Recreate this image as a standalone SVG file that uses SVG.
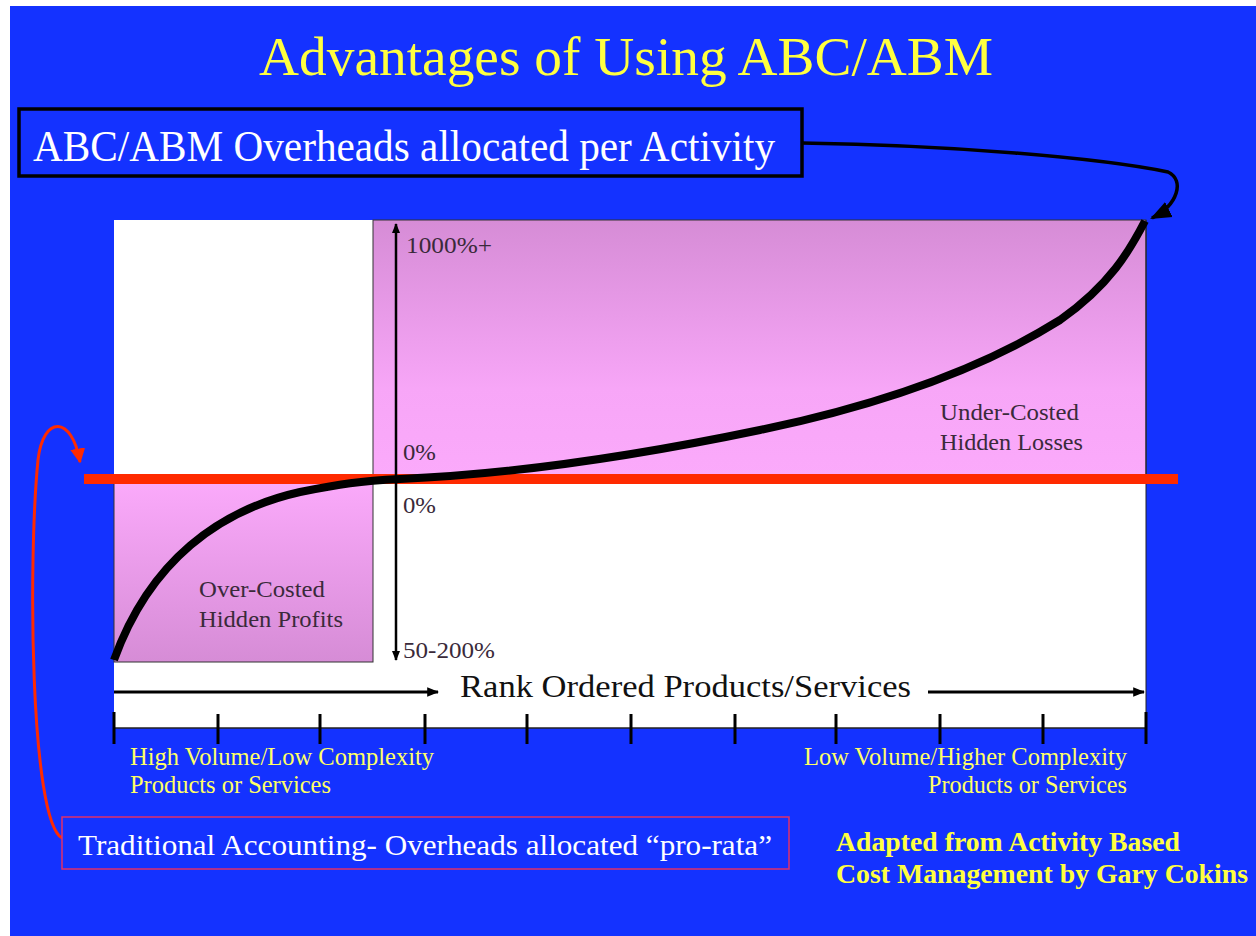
<svg xmlns="http://www.w3.org/2000/svg" width="1256" height="936" viewBox="0 0 1256 936">
<defs>
<linearGradient id="gTop" x1="0" y1="0" x2="0" y2="1">
<stop offset="0" stop-color="#D68CD6"/>
<stop offset="0.65" stop-color="#F7A6F7"/>
<stop offset="1" stop-color="#FBAAFB"/>
</linearGradient>
<linearGradient id="gBot" x1="0" y1="0" x2="0" y2="1">
<stop offset="0" stop-color="#FBAAFB"/>
<stop offset="1" stop-color="#D68CD6"/>
</linearGradient>
<marker id="ah" viewBox="0 0 10 10" refX="9" refY="5" markerWidth="4" markerHeight="4" orient="auto-start-reverse" markerUnits="strokeWidth">
<path d="M0,1 L10,5 L0,9 z" fill="#000"/>
</marker>
<marker id="ahs" viewBox="0 0 10 10" refX="9" refY="5" markerWidth="6" markerHeight="6" orient="auto-start-reverse" markerUnits="strokeWidth">
<path d="M0,1 L10,5 L0,9 z" fill="#000"/>
</marker>
<marker id="ahr" viewBox="0 0 10 10" refX="9" refY="5" markerWidth="5" markerHeight="5" orient="auto" markerUnits="strokeWidth">
<path d="M0,0 L10,5 L0,10 z" fill="#FF2A00"/>
</marker>
</defs>
<style>
.serif{font-family:"Liberation Serif","Times New Roman",serif}
.lbl{font-family:"Liberation Serif","Times New Roman",serif;font-size:23px;fill:#3a2a3a}
.ylw{font-family:"Liberation Serif","Times New Roman",serif;font-size:24.5px;fill:#FFFF66}
.tick{stroke:#000;stroke-width:3}
</style>
<rect x="0" y="0" width="1256" height="936" fill="#fff"/>
<rect x="10" y="6" width="1246" height="930" fill="#1432FF"/>

<text id="title" x="259" y="75" class="serif" font-size="54" fill="#FFFF40" textLength="734" lengthAdjust="spacingAndGlyphs">Advantages of Using  ABC/ABM</text>

<g id="chart">
<rect x="114" y="220" width="1032" height="508" fill="#fff"/>
<rect x="373" y="220" width="773" height="260" fill="url(#gTop)" stroke="#333" stroke-width="1"/>
<rect x="114" y="480" width="259" height="182" fill="url(#gBot)" stroke="#333" stroke-width="1"/>
<line x1="114" y1="728" x2="1146" y2="728" stroke="#222" stroke-width="1.5"/>
<line x1="1146" y1="220" x2="1146" y2="728" stroke="#222" stroke-width="1"/>
</g>

<g id="ticks">
<line class="tick" x1="114" y1="712" x2="114" y2="744"/>
<line class="tick" x1="218" y1="714" x2="218" y2="744"/>
<line class="tick" x1="320" y1="714" x2="320" y2="744"/>
<line class="tick" x1="425" y1="714" x2="425" y2="744"/>
<line class="tick" x1="527" y1="714" x2="527" y2="744"/>
<line class="tick" x1="631" y1="714" x2="631" y2="744"/>
<line class="tick" x1="735" y1="714" x2="735" y2="744"/>
<line class="tick" x1="836" y1="714" x2="836" y2="744"/>
<line class="tick" x1="940" y1="714" x2="940" y2="744"/>
<line class="tick" x1="1043" y1="714" x2="1043" y2="744"/>
<line class="tick" x1="1146" y1="712" x2="1146" y2="744"/>
</g>

<g id="labels">
<text class="lbl" x="406" y="253" textLength="86" lengthAdjust="spacingAndGlyphs">1000%+</text>
<text class="lbl" x="403" y="460" textLength="33" lengthAdjust="spacingAndGlyphs">0%</text>
<text class="lbl" x="403" y="513" textLength="33" lengthAdjust="spacingAndGlyphs">0%</text>
<text class="lbl" x="403" y="658" textLength="92" lengthAdjust="spacingAndGlyphs">50-200%</text>
<text class="lbl" x="940" y="420" textLength="139" lengthAdjust="spacingAndGlyphs">Under-Costed</text>
<text class="lbl" x="940" y="450" textLength="143" lengthAdjust="spacingAndGlyphs">Hidden Losses</text>
<text class="lbl" x="199" y="597" textLength="126" lengthAdjust="spacingAndGlyphs">Over-Costed</text>
<text class="lbl" x="199" y="627" textLength="144" lengthAdjust="spacingAndGlyphs">Hidden Profits</text>
<text class="serif" x="460" y="697" font-size="32" fill="#111" textLength="451" lengthAdjust="spacingAndGlyphs">Rank Ordered Products/Services</text>
<text class="ylw" x="130" y="765" textLength="304" lengthAdjust="spacingAndGlyphs">High Volume/Low Complexity</text>
<text class="ylw" x="130" y="793" textLength="201" lengthAdjust="spacingAndGlyphs">Products or Services</text>
<text class="ylw" x="804" y="765" textLength="323" lengthAdjust="spacingAndGlyphs">Low Volume/Higher Complexity</text>
<text class="ylw" x="928" y="793" textLength="199" lengthAdjust="spacingAndGlyphs">Products or Services</text>
<text class="serif" x="836" y="851" font-size="27" font-weight="bold" fill="#FFFF40" textLength="344" lengthAdjust="spacingAndGlyphs">Adapted from Activity Based</text>
<text class="serif" x="836" y="883" font-size="27" font-weight="bold" fill="#FFFF40" textLength="412" lengthAdjust="spacingAndGlyphs">Cost Management by Gary Cokins</text>
</g>

<g id="connectors">
<line x1="84" y1="479" x2="1178" y2="479" stroke="#FF2A00" stroke-width="10"/>
<path d="M114,660 C150,560 220,510 300,492 C340,484 360,481 400,479 C520,474 640,455 760,430 C880,405 980,370 1060,320 C1110,285 1130,250 1145,221" fill="none" stroke="#000" stroke-width="8"/>
<line x1="396" y1="660" x2="396" y2="224" stroke="#000" stroke-width="2.5" marker-start="url(#ah)" marker-end="url(#ah)"/>
<line x1="114" y1="692" x2="438" y2="692" stroke="#000" stroke-width="3" marker-end="url(#ah)"/>
<line x1="928" y1="692" x2="1144" y2="692" stroke="#000" stroke-width="3" marker-end="url(#ah)"/>
<path d="M802,143 C950,145 1100,158 1168,172 C1185,180 1178,205 1152,218" fill="none" stroke="#000" stroke-width="3.5" marker-end="url(#ahs)"/>
<path d="M62,838 C30,820 28,560 38,460 C43,415 72,415 80,462" fill="none" stroke="#FF2A00" stroke-width="3" marker-end="url(#ahr)"/>
</g>

<g id="box-abc">
<rect x="19" y="109" width="783" height="67" fill="#1432FF" stroke="#000" stroke-width="3.5"/>
<text class="serif" x="33" y="161" font-size="44" fill="#fff" textLength="742" lengthAdjust="spacingAndGlyphs">ABC/ABM  Overheads allocated per Activity</text>
</g>

<g id="box-trad">
<rect x="62" y="817" width="727" height="52" fill="#1432FF" stroke="#E0306A" stroke-width="1.5"/>
<text class="serif" x="78" y="855" font-size="30" fill="#fff" textLength="694" lengthAdjust="spacingAndGlyphs">Traditional Accounting- Overheads allocated “pro-rata”</text>
</g>
</svg>
